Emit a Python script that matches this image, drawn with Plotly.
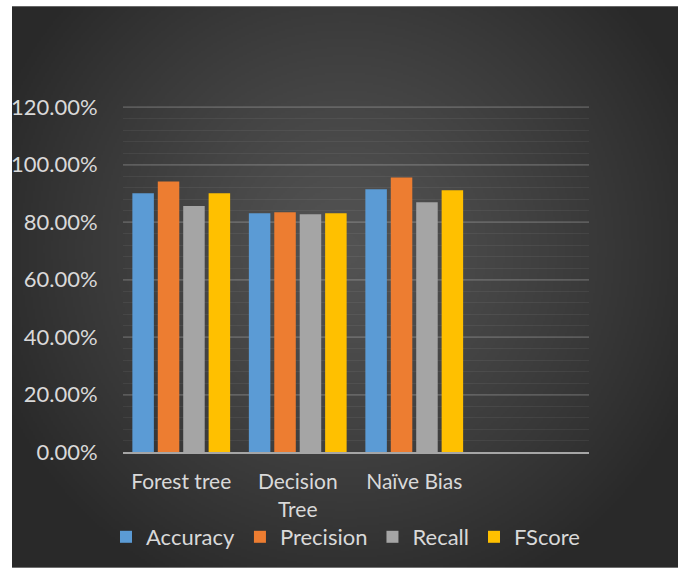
import base64
import struct
import zlib

import numpy as np
import plotly.graph_objects as go

# Classifier comparison data
models = ["Forest tree", "Decision Tree", "Naïve Bias"]
model_labels = ["Forest tree", "Decision<br>Tree", "Naïve Bias"]
spare_slot = " "  # empty fourth category slot on the axis

accuracy = [0.9007, 0.8310, 0.9150]
precision = [0.9420, 0.8350, 0.9560]
recall = [0.8560, 0.8280, 0.8690]
fscore = [0.9007, 0.8310, 0.9110]

series = [
    ("Accuracy", accuracy, "#5b9bd5"),
    ("Precision", precision, "#ed7d31"),
    ("Recall", recall, "#a5a5a5"),
    ("FScore", fscore, "#ffc000"),
]

y_ticks = [0, 0.2, 0.4, 0.6, 0.8, 1.0, 1.2]
y_top = 1.2045  # a hair above 120% so the top gridline is kept

W, H = 678, 569
ML, MR, MT, MB = 123, 89, 106, 116
PW, PH = W - ML - MR, H - MT - MB

FONT = "Lato, 'Open Sans', sans-serif"
FS = 22
TXT = "#d9d9d9"


def px_to_paper_x(px):
    return (px - ML) / PW


def px_to_paper_y(py):
    return (H - MB - py) / PH


def png_data_uri(rgb):
    """Encode an (h, w, 3) uint8 array as a PNG data URI."""
    h, w, _ = rgb.shape
    raw = b"".join(b"\x00" + rgb[r].tobytes() for r in range(h))

    def chunk(tag, data):
        c = struct.pack(">I", len(data)) + tag + data
        return c + struct.pack(">I", zlib.crc32(tag + data) & 0xFFFFFFFF)

    png = b"\x89PNG\r\n\x1a\n"
    png += chunk(b"IHDR", struct.pack(">IIBBBBB", w, h, 8, 2, 0, 0, 0))
    png += chunk(b"IDAT", zlib.compress(raw, 9))
    png += chunk(b"IEND", b"")
    return "data:image/png;base64," + base64.b64encode(png).decode()


# Dark panel with a soft radial glow behind the chart
panel_x0, panel_y0, panel_x1, panel_y1 = 12, 6, 678, 569
pw, ph = (panel_x1 - panel_x0) // 2, (panel_y1 - panel_y0) // 2
gx = np.linspace(panel_x0, panel_x1, pw)[None, :]
gy = np.linspace(panel_y0, panel_y1, ph)[:, None]
cx, cy, rx, ry = 345.0, 250.0, 380.0, 380.0
d = np.sqrt(((gx - cx) / rx) ** 2 + ((gy - cy) / ry) ** 2)
shade = 83.0 - 42.0 * np.minimum(d, 1.0) ** 1.2
glow = np.clip(np.repeat(shade[:, :, None], 3, axis=2), 0, 255).astype(np.uint8)
glow = np.ascontiguousarray(glow)

fig = go.Figure()
for name, vals, col in series:
    fig.add_trace(go.Bar(
        name=name, x=models, y=vals,
        marker=dict(color=col, line=dict(width=0)),
    ))

fig.add_layout_image(
    source=png_data_uri(glow), xref="paper", yref="paper", layer="below",
    x=px_to_paper_x(panel_x0), y=px_to_paper_y(panel_y0),
    sizex=(panel_x1 - panel_x0) / PW, sizey=(panel_y1 - panel_y0) / PH,
    xanchor="left", yanchor="top", sizing="stretch",
)

fig.update_layout(
    width=W, height=H,
    margin=dict(l=ML, r=MR, t=MT, b=MB, pad=0),
    paper_bgcolor="white",
    plot_bgcolor="rgba(0,0,0,0)",
    barmode="group",
    bargap=0.127,
    bargroupgap=0.154,
    font=dict(family=FONT, size=FS, color=TXT),
    showlegend=True,
    legend=dict(
        orientation="h",
        x=px_to_paper_x(106), xanchor="left",
        y=px_to_paper_y(537), yanchor="middle",
        font=dict(family=FONT, size=FS, color=TXT),
        bgcolor="rgba(0,0,0,0)",
        traceorder="normal",
        itemsizing="constant",
    ),
    xaxis=dict(
        type="category",
        categoryorder="array",
        categoryarray=models + [spare_slot],
        tickvals=models,
        ticktext=model_labels,
        range=[-0.5, 3.5],
        showgrid=False,
        showline=True, linecolor="#a6a6a6", linewidth=2,
        ticks="outside", ticklen=10, tickcolor="rgba(0,0,0,0)",
        tickfont=dict(family=FONT, size=21, color=TXT),
        fixedrange=True,
    ),
    yaxis=dict(
        range=[0, y_top],
        tickvals=y_ticks,
        tickformat=".2%",
        showgrid=True, gridcolor="rgba(255,255,255,0.13)", gridwidth=2,
        zeroline=False,
        showline=False,
        ticks="outside", ticklen=20, tickcolor="rgba(0,0,0,0)",
        tickfont=dict(family=FONT, size=FS, color=TXT),
        minor=dict(dtick=0.04, showgrid=True,
                   gridcolor="rgba(255,255,255,0.06)", gridwidth=1),
        fixedrange=True,
    ),
)

fig.write_html("out.html")
